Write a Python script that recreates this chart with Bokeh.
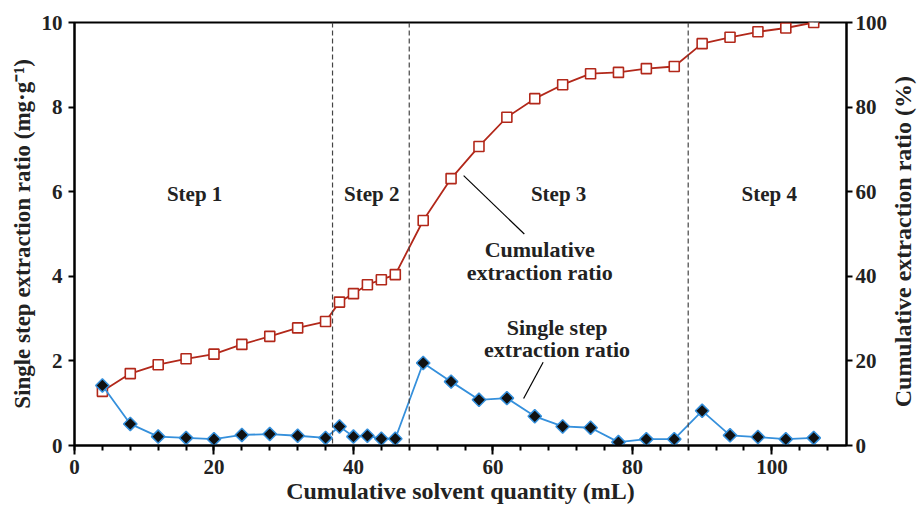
import numpy as np
from bokeh.plotting import figure
from bokeh.layouts import row
from bokeh.models import Range1d, LinearAxis, SingleIntervalTicker, Span
from bokeh.core.properties import value
from bokeh.embed import file_html
from bokeh.resources import INLINE

# ---- data ----
solvent_ml = [4, 8, 12, 16, 20, 24, 28, 32, 36, 38, 40, 42, 44, 46, 50, 54,
              58, 62, 66, 70, 74, 78, 82, 86, 90, 94, 98, 102, 106]
single_step = [1.42, 0.51, 0.21, 0.18, 0.15, 0.25, 0.27, 0.23, 0.18, 0.45,
               0.21, 0.23, 0.16, 0.16, 1.95, 1.51, 1.08, 1.12, 0.69, 0.45,
               0.42, 0.08, 0.15, 0.15, 0.82, 0.24, 0.20, 0.15, 0.18]
cumulative = [12.8, 17.0, 19.1, 20.5, 21.6, 23.9, 25.8, 27.8, 29.3, 33.9,
              35.9, 38.0, 39.2, 40.4, 53.2, 63.1, 70.7, 77.6, 82.0, 85.3,
              87.9, 88.2, 89.1, 89.6, 95.0, 96.5, 97.8, 98.7, 100.0]
step_bounds = [37, 48, 88]
step_labels = ["Step  1", "Step  2", "Step  3", "Step  4"]
step_label_x = [17.6, 43.0, 69.8, 100.0]
step_label_y = 5.95
right_title = "Cumulative  extraction ratio  (%)"

FONT = "Liberation Serif"
RED = "#b2281a"
BLUE = "#3590dc"
TXT = "#222222"

MAIN_W = 890
SIDE_W = 917 - MAIN_W
H = 506

p = figure(width=MAIN_W, height=H, output_backend="svg", toolbar_location=None,
           x_range=Range1d(0, 110.7), y_range=Range1d(0, 10),
           min_border_left=74, min_border_right=42, min_border_top=22,
           min_border_bottom=59)
p.extra_y_ranges = {"cum": Range1d(0, 100)}
p.xgrid.visible = False
p.ygrid.visible = False
p.outline_line_color = "black"
p.outline_line_width = 2
p.outline_line_alpha = 1
p.background_fill_color = "white"
p.border_fill_color = "white"

def style_axis(ax):
    ax.axis_line_width = 2
    ax.axis_line_color = "black"
    ax.major_tick_line_width = 2
    ax.minor_tick_line_width = 2
    ax.major_tick_line_color = "black"
    ax.minor_tick_line_color = "black"
    ax.major_tick_in = 0
    ax.minor_tick_in = 0
    ax.major_label_text_font = FONT
    ax.major_label_text_font_style = "bold"
    ax.major_label_text_font_size = "21px"
    ax.major_label_text_color = TXT
    ax.axis_label_text_font = FONT
    ax.axis_label_text_font_style = "bold"
    ax.axis_label_text_font_size = "23px"
    ax.axis_label_text_color = TXT

# bottom axis
xa = p.xaxis[0]
style_axis(xa)
xa.ticker = SingleIntervalTicker(interval=20, num_minor_ticks=5)
xa.major_tick_out = 9
xa.minor_tick_out = 5
xa.major_label_standoff = 5
xa.axis_label = "Cumulative solvent quantity (mL)"
xa.axis_label_text_font_size = "24px"
xa.axis_label_standoff = 1

# left axis
ya = p.yaxis[0]
style_axis(ya)
ya.ticker = SingleIntervalTicker(interval=2, num_minor_ticks=0)
ya.major_tick_out = 6
ya.minor_tick_out = 0
ya.major_label_standoff = 6
ya.axis_label = "Single step extraction ratio (mg·g⁻¹)"
ya.axis_label_standoff = 4

# right axis (its title is drawn in a narrow side panel, reading bottom-to-top)
ra = LinearAxis(y_range_name="cum")
style_axis(ra)
ra.ticker = SingleIntervalTicker(interval=20, num_minor_ticks=0)
ra.major_tick_out = 6
ra.minor_tick_out = 0
ra.major_label_standoff = 3
p.add_layout(ra, "right")

# step boundaries
for xb in step_bounds:
    p.add_layout(Span(location=xb, dimension="height", line_color="#444444",
                      line_width=1.2, line_dash="5 3"))

# series
p.line(solvent_ml, cumulative, y_range_name="cum", line_color=RED, line_width=1.8)
p.scatter(solvent_ml, cumulative, y_range_name="cum", marker="square", size=10,
          fill_color="white", line_color=RED, line_width=1.6)

p.line(solvent_ml, single_step, line_color=BLUE, line_width=1.8)
p.scatter(solvent_ml, single_step, marker="square", angle=np.pi / 4, size=9.5,
          fill_color="#111111", line_color=BLUE, line_width=1.5)

# step labels
p.text(step_label_x, [step_label_y] * 4, text=step_labels,
       text_font=value(FONT), text_font_style="bold", text_font_size="21px",
       text_align="center", text_baseline="middle", text_color=TXT)

# series annotations
p.text([66.7, 66.7], [4.64, 4.09], text=["Cumulative", "extraction ratio"],
       text_font=value(FONT), text_font_style="bold", text_font_size="22px",
       text_align="center", text_baseline="middle", text_color=TXT)
p.segment(x0=[55.8], y0=[6.38], x1=[64.5], y1=[5.0], line_color="black", line_width=1.2)

p.text([69.2, 69.2], [2.80, 2.27], text=["Single step", "extraction ratio"],
       text_font=value(FONT), text_font_style="bold", text_font_size="22px",
       text_align="center", text_baseline="middle", text_color=TXT)
p.segment(x0=[67.2], y0=[1.97], x1=[64.4], y1=[1.11], line_color="black", line_width=1.2)

# side panel holding the right-hand axis title
side = figure(width=SIDE_W, height=H, output_backend="svg", toolbar_location=None,
              x_range=Range1d(0, SIDE_W), y_range=Range1d(0, H),
              x_axis_location=None, y_axis_location=None, min_border=0)
side.xgrid.visible = False
side.ygrid.visible = False
side.outline_line_color = None
side.background_fill_color = "white"
side.border_fill_color = "white"
side.text([SIDE_W / 2 - 1], [H - 255], text=[right_title], angle=np.pi / 2,
          text_font=value(FONT), text_font_style="bold", text_font_size="24px",
          text_align="center", text_baseline="middle", text_color=TXT)

layout = row(p, side, spacing=0)
open("out.html", "w").write(file_html(layout, INLINE))
